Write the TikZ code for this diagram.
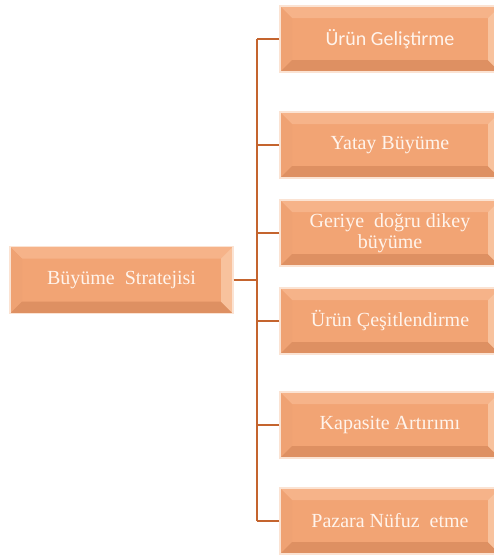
\documentclass[tikz,border=0pt]{standalone}
\usepackage{fontspec}
\setmainfont{Liberation Serif}
\newfontfamily\sansface{Carlito}

\definecolor{boxface}{HTML}{F2A474}
\definecolor{beveltop}{HTML}{F6B389}
\definecolor{bevelleft}{HTML}{EFA273}
\definecolor{bevelbottom}{HTML}{DE9062}
\definecolor{bevelright}{HTML}{F8C29D}
\definecolor{linkcol}{HTML}{C4642E}
\definecolor{labelcol}{HTML}{FFF4EC}
\definecolor{halo}{HTML}{FBE3D3}

\tikzset{
  x=1pt, y=-1pt,
  bevelbox/.style={
    minimum width=220pt, minimum height=66pt, inner sep=0pt,
    draw=halo, line width=1.2pt, fill=boxface,
    text=labelcol, font=\fontsize{20}{21}\selectfont, align=center,
    path picture={
      \def\bv{12pt}
      \fill[beveltop] (path picture bounding box.north west) -- (path picture bounding box.north east)
        -- ([shift={(-\bv,-\bv)}]path picture bounding box.north east)
        -- ([shift={(\bv,-\bv)}]path picture bounding box.north west) -- cycle;
      \fill[bevelleft] (path picture bounding box.north west) -- (path picture bounding box.south west)
        -- ([shift={(\bv,\bv)}]path picture bounding box.south west)
        -- ([shift={(\bv,-\bv)}]path picture bounding box.north west) -- cycle;
      \fill[bevelbottom] (path picture bounding box.south west) -- (path picture bounding box.south east)
        -- ([shift={(-\bv,\bv)}]path picture bounding box.south east)
        -- ([shift={(\bv,\bv)}]path picture bounding box.south west) -- cycle;
      \fill[bevelright] (path picture bounding box.north east) -- (path picture bounding box.south east)
        -- ([shift={(-\bv,\bv)}]path picture bounding box.south east)
        -- ([shift={(-\bv,-\bv)}]path picture bounding box.north east) -- cycle;
    }
  },
  link/.style={draw=linkcol, line width=2.2pt}
}

\begin{document}
\begin{tikzpicture}
  \useasboundingbox (0,0) rectangle (494,558);
  \clip (0,0) rectangle (494,558);
  \fill[white] (0,0) rectangle (494,558);

  % root of the tree
  \node[bevelbox, minimum width=223pt, minimum height=67pt] (root) at (121.5,280) {Büyüme\ \ Stratejisi};

  % branches
  \node[bevelbox] (c1) at (390,39) {\sansface Ürün Geliştirme};
  \node[bevelbox] (c2) at (390,145) {Yatay Büyüme};
  \node[bevelbox] (c3) at (390,233) {Geriye\ \ doğru dikey\\büyüme};
  \node[bevelbox] (c4) at (390,321) {Ürün Çeşitlendirme};
  \node[bevelbox] (c5) at (390,425) {Kapasite Artırımı};
  \node[bevelbox] (c6) at (390,521) {Pazara Nüfuz\ \ etme};

  % vertical trunk line
  \coordinate (trunk) at (257,0);
  \draw[link] (c1.west -| trunk) -- (c6.west -| trunk);
  \draw[link] (root.east) -- (root.east -| trunk);
  \foreach \c in {c1,c2,c3,c4,c5,c6}
    \draw[link] (\c.west) -- (\c.west -| trunk);
\end{tikzpicture}
\end{document}
